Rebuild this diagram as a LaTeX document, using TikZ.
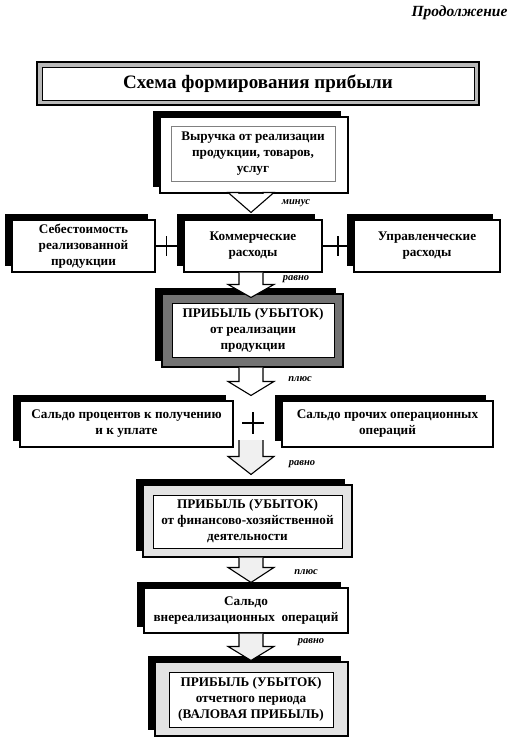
\documentclass[tikz,border=0pt]{standalone}
\usepackage{fontspec}
\setmainfont{Liberation Serif}
\usetikzlibrary{shadows,calc}
\tikzset{
  boxtxt/.style={font=\fontsize{13.2}{16}\selectfont\bfseries, align=center},
  shadowed/.style={general shadow={fill=black, shadow xshift=-7pt, shadow yshift=6pt}},
  plainbox/.style={draw=black, line width=1.1pt, fill=white, shadowed, boxtxt, inner sep=0pt},
  framebox/.style={draw=black, line width=1.1pt, shadowed, inner sep=0pt},
  innerbox/.style={draw=black, line width=0.7pt, fill=white, boxtxt, inner sep=0pt},
  lbl/.style={font=\fontsize{10.5}{12}\selectfont\bfseries\itshape},
  conn/.style={line width=1.1pt},
  blk/.style={draw=black, line width=1.1pt, line join=miter}
}
% block arrow: #1 source anchor, #2 target anchor, #3 tip offset (up), #4 head length, #5 fill
\newcommand\blockarr[5]{%
  \filldraw[blk, fill=#5] let \p1=#1, \p2=#2, \n1={\y2+#3} in
    (239pt,\y1) -- (239pt,\n1+#4) -- (228pt,\n1+#4) -- (251pt,\n1)
    -- (274pt,\n1+#4) -- (263pt,\n1+#4) -- (263pt,\y1);
}
\begin{document}
\begin{tikzpicture}[x=1pt,y=-1pt]
\useasboundingbox (0,0) rectangle (514,740);
\fill[white] (0,0) rectangle (514,740);

% header
\node[font=\fontsize{15.5}{18}\selectfont\bfseries\itshape, anchor=east] (cont) at (511,13) {Продолжение};

% title
\node[draw=black, line width=1.6pt, fill=gray!55, minimum width=442pt, minimum height=43pt, inner sep=0pt] (title) at (258,83.5) {};
\node[draw=black, line width=0.8pt, fill=white, minimum width=432pt, minimum height=33pt, inner sep=0pt,
      font=\fontsize{19}{23}\selectfont\bfseries] (titletxt) at (258,83.5) {Схема формирования прибыли};

% revenue
\node[framebox, line width=1.6pt, fill=white, minimum width=188pt, minimum height=76pt] (b1) at (254,155) {};
\node[innerbox, draw=gray, line width=0.6pt, minimum width=164pt, minimum height=55pt] (b1in) at (253,153.5)
  {Выручка от реализации\\продукции, товаров,\\услуг};

% row 2
\node[plainbox, minimum width=143pt, minimum height=52pt] (cost) at (83.5,246)
  {Себестоимость\\реализованной\\продукции};
\node[plainbox, minimum width=138pt, minimum height=52pt] (comm) at (253,246)
  {Коммерческие\\расходы};
\node[plainbox, minimum width=146pt, minimum height=52pt] (adm) at (427,246)
  {Управленческие\\расходы};
\draw[conn] (cost.east) -- (comm.west);
\draw[conn] ($(cost.east)!0.38!(comm.west)$) +(0,-10) -- +(0,10);
\draw[conn] (comm.east) -- (adm.west);
\draw[conn] ($(comm.east)!0.5!(adm.west)$) +(0,-10) -- +(0,10);

% profit from sales
\node[framebox, fill=black!55, minimum width=181pt, minimum height=73pt] (b3) at (252.5,330.5) {};
\node[innerbox, minimum width=162pt, minimum height=54pt] (b3in) at (253,330)
  {ПРИБЫЛЬ (УБЫТОК)\\от реализации\\продукции};

% row 4
\node[plainbox, minimum width=213pt, minimum height=46pt] (perc) at (126.5,424)
  {Сальдо процентов к получению\\и к уплате};
\node[plainbox, minimum width=211pt, minimum height=46pt] (oper) at (387.5,424)
  {Сальдо прочих операционных\\операций};
\coordinate (plus) at (253,423);
\draw[line width=1.4pt] ($(plus)+(-11,0)$) -- ($(plus)+(11,0)$);
\draw[line width=1.4pt] ($(plus)+(0,-11)$) -- ($(plus)+(0,11)$);

% profit from fin-econ activity
\node[framebox, fill=gray!22, minimum width=209pt, minimum height=72pt] (b5) at (247.5,521) {};
\node[innerbox, minimum width=189pt, minimum height=53pt] (b5in) at (247.5,521.5)
  {ПРИБЫЛЬ (УБЫТОК)\\от финансово-хозяйственной\\деятельности};

% non-sales
\node[plainbox, minimum width=204pt, minimum height=45pt] (nons) at (246,610.5)
  {Сальдо\\внереализационных\ \ операций};

% gross profit
\node[framebox, fill=gray!22, minimum width=193pt, minimum height=74pt] (b7) at (251.5,699) {};
\node[innerbox, minimum width=164pt, minimum height=55pt] (b7in) at (251,699.5)
  {ПРИБЫЛЬ (УБЫТОК)\\отчетного периода\\(ВАЛОВАЯ ПРИБЫЛЬ)};

% arrows
\blockarr{(b1.south)}{(comm.north)}{7pt}{20pt}{white}
\blockarr{(comm.south)}{(b3.north)}{-4pt}{13pt}{white}
\blockarr{(b3.south)}{(perc.north)}{5pt}{14pt}{white}
\blockarr{($(plus)+(0,17)$)}{(b5.north)}{10pt}{18pt}{gray!12}
\blockarr{(b5.south)}{(nons.north)}{5pt}{15pt}{gray!12}
\blockarr{(nons.south)}{(b7.north)}{1pt}{14pt}{gray!12}

% labels
\node[lbl] (l1) at (296,203) {минус};
\node[lbl] (l2) at (296,279) {равно};
\node[lbl] (l3) at (300,379) {плюс};
\node[lbl] (l4) at (302,464) {равно};
\node[lbl] (l5) at (306,572) {плюс};
\node[lbl] (l6) at (311,642) {равно};
\end{tikzpicture}
\end{document}
